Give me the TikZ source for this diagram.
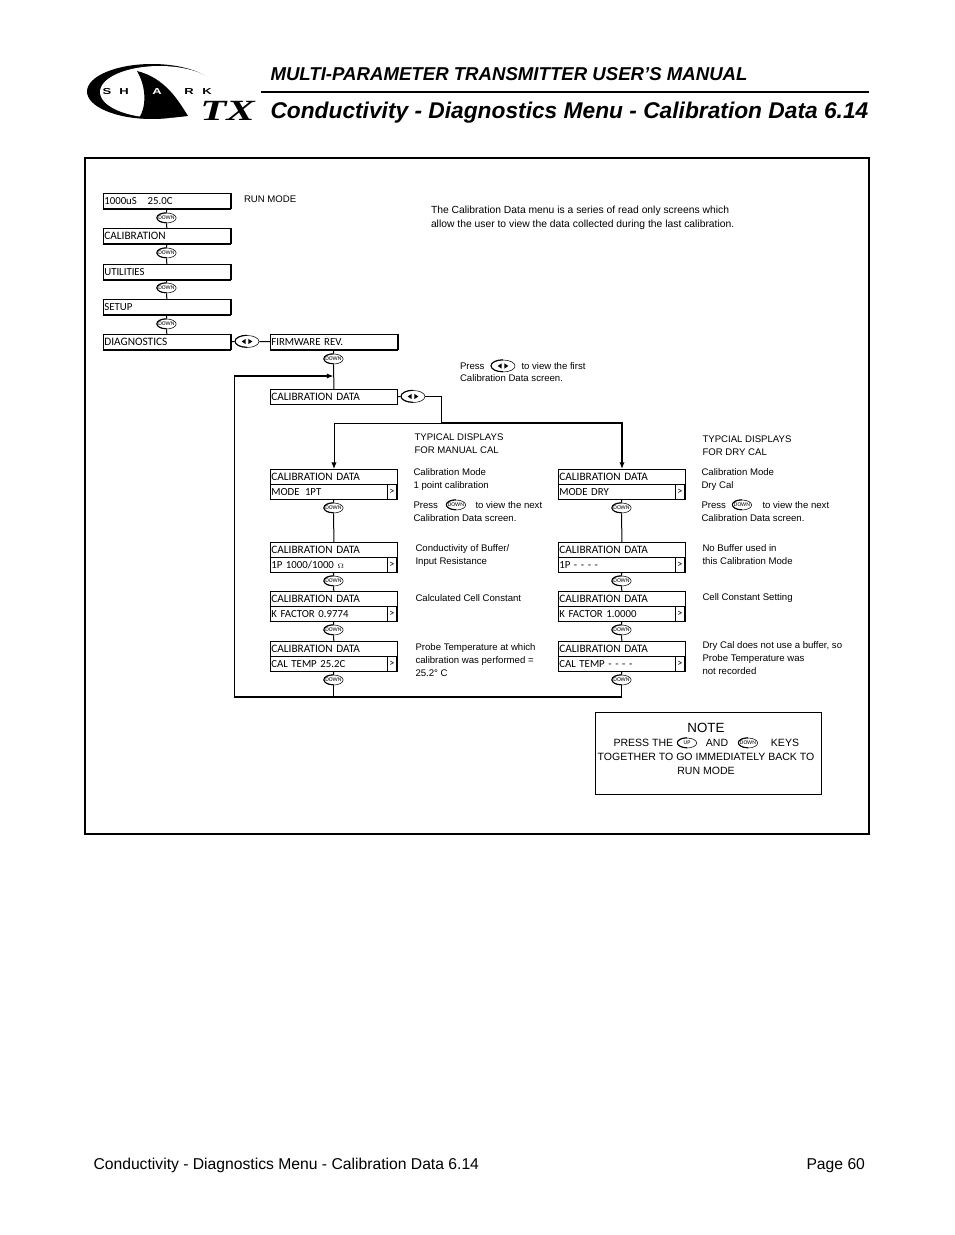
\documentclass[tikz,border=0pt]{standalone}
\usepackage{fontspec}
\setmainfont{Liberation Sans}
\newfontfamily\lcdfont{Carlito}
\newfontfamily\logofont{Liberation Serif}
\usetikzlibrary{arrows.meta,shapes.geometric}

\tikzset{every picture/.style={line width=0.75pt}}
\tikzset{
	lcdbox/.style={draw,anchor=north west,minimum width=95.25pt,minimum height=11.25pt,inner sep=0pt,
		text width=94pt,align=left,font=\lcdfont\fontsize{8.1}{8}\selectfont,text depth=0pt},
	lcdshade/.style={lcdbox,append after command={
		[line width=1.3pt] (\tikzlastnode.north east) edge[-] (\tikzlastnode.south east)
		(\tikzlastnode.south west) edge[-] (\tikzlastnode.south east)}},
	cellbox/.style={draw,anchor=north east,minimum width=6.75pt,minimum height=11.25pt,inner sep=0pt,
		font=\lcdfont\fontsize{7.7}{8}\selectfont},
	keybase/.style={draw,fill=white,ellipse,inner sep=0pt,inner xsep=-2pt,
		line width=0.4pt,font=\lcdfont\fontsize{4.3}{4}\selectfont},
	keyrim/.style 2 args={append after command={[line width=1pt] (\tikzlastnode.north)
		edge[to path={(\tikztostart) arc[start angle=270,end angle=90,x radius=#1,y radius=#2]}] (\tikzlastnode.south)}},
	keydown/.style={keybase,minimum width=14.5pt,minimum height=7.5pt,keyrim={7.25pt}{3.75pt}},
	keylr/.style={keybase,minimum width=18pt,minimum height=9pt,keyrim={9pt}{4.5pt},
		path picture={\fill[black] (path picture bounding box.center) ++(-1pt,-2pt) -- ++(0,4pt) -- ++(-3pt,-2pt) -- cycle;
			\fill[black] (path picture bounding box.center) ++(1pt,-2pt) -- ++(0,4pt) -- ++(3pt,-2pt) -- cycle;}},
	caption/.style={anchor=west,inner sep=0pt,align=left,font=\fontsize{7.2}{9.6}\selectfont},
	looplink/.style={line width=1pt},
	headtitle/.style={anchor=base west,inner sep=0pt,font=\bfseries\itshape\fontsize{17.06}{20}\selectfont},
	foot/.style={anchor=base west,inner sep=0pt,font=\fontsize{11.77}{13}\selectfont},
	notetext/.style={inner sep=0pt,font=\fontsize{7.9}{10}\selectfont},
}
\newcommand{\cdlabel}{{\fontsize{8.5}{8}\selectfont CALIBRATION DATA}}
\newcommand{\lcdstack}[4]{
	\node[lcdbox] (cd#1) at (#2,#3) {\cdlabel};
	\node[lcdbox] (val#1) at (#2,#3+15) {#4};
	\node[cellbox] (more#1) at (#2+127,#3+15) {>};
}

\begin{document}
\begin{tikzpicture}[x=0.75pt,y=0.75pt,yscale=-1]
	\useasboundingbox (0,0) rectangle (954,1235);

	% Logo
	\fill (152,91.5) ellipse [x radius=65, y radius=27.5];
	\fill[white] (159.5,92) ellipse [x radius=59.5, y radius=26];
	\fill[white] (190,85.5) rectangle (225,109);
	\fill (137,71) .. controls (165,78) and (178,100) .. (188,116) .. controls (172,118) and (155,119) .. (139,118) .. controls (146,108) and (147,88) .. (137,71) -- cycle;
	\foreach \lx/\lt/\lc in {107/S/black,124/H/black,157/A/white,189/R/black,207/K/black}
		\node[text=\lc,inner sep=0pt,font=\bfseries\fontsize{6.5}{7}\selectfont,xscale=1.5] (logo\lt) at (\lx,92) {\lt};
	\node[inner sep=0pt,font=\logofont\bfseries\itshape\fontsize{22}{24}\selectfont,xscale=1.45] (logoTX) at (227.5,111) {TX};

	% Header
	\node[headtitle,font=\bfseries\itshape\fontsize{13.96}{18}\selectfont] (manual) at (270,80) {MULTI-PARAMETER TRANSMITTER USER’S MANUAL};
	\coordinate (ruleL) at (261,92);
	\coordinate (ruleR) at (869,92);
	\draw[line width=2pt] (ruleL) -- (ruleR);
	\node[headtitle] (pagetitle) at (270,118) {Conductivity - Diagnostics Menu - Calibration Data 6.14};

	% Frame
	\draw[line width=1.3pt] (85,158) rectangle (869,834);

	% Main menu
	\node[lcdshade] (run) at (103,193) {1000uS\ \ \ 25.0C};
	\node[lcdshade] (calib) at (103,228) {{\fontsize{8.5}{8}\selectfont CALIBRATION}};
	\node[lcdshade] (util) at (103,264) {UTILITIES};
	\node[lcdshade] (setup) at (103,299) {SETUP};
	\node[lcdshade] (diag) at (103,334) {{\fontsize{8.5}{8}\selectfont DIAGNOSTICS}};
	\node[lcdshade] (firm) at (270,334) {FIRMWARE REV.};
	\node[lcdbox] (cdata) at (270,389) {\cdlabel};

	\node[keydown] (key1) at (166.5,218) {DOWN};
	\node[keydown] (key2) at (166.5,253) {DOWN};
	\node[keydown] (key3) at (166.5,288) {DOWN};
	\node[keydown] (key4) at (166.5,324) {DOWN};
	\node[keylr] (keyDiag) at (247,341.5) {};
	\node[keydown] (keyFirm) at (333.5,359) {DOWN};
	\node[keylr] (keyCal) at (413,396.5) {};

	% Screens
	\lcdstack{A1}{270}{469}{MODE\ \,1PT}
	\lcdstack{A2}{270}{542}{1P 1000/1000 {\fontsize{5}{5}\selectfont$\Omega$}}
	\lcdstack{A3}{270}{591}{K FACTOR 0.9774}
	\lcdstack{A4}{270}{641}{CAL TEMP 25.2C}
	\lcdstack{B1}{558}{469}{MODE DRY}
	\lcdstack{B2}{558}{542}{1P - - - -}
	\lcdstack{B3}{558}{591}{K FACTOR 1.0000}
	\lcdstack{B4}{558}{641}{CAL TEMP - - - -}

	\node[keydown] (keyA1) at (333.5,508) {DOWN};
	\node[keydown] (keyA2) at (333.5,581) {DOWN};
	\node[keydown] (keyA3) at (333.5,630) {DOWN};
	\node[keydown] (keyA4) at (333.5,680) {DOWN};
	\node[keydown] (keyB1) at (621.5,508) {DOWN};
	\node[keydown] (keyB2) at (621.5,581) {DOWN};
	\node[keydown] (keyB3) at (621.5,630) {DOWN};
	\node[keydown] (keyB4) at (621.5,680) {DOWN};

	% Connectors
	\draw (run) -- (key1) -- (calib) -- (key2) -- (util) -- (key3) -- (setup) -- (key4) -- (diag);
	\draw (diag) -- (keyDiag) -- (firm);
	\draw (firm) -- (keyFirm) -- (cdata);
	\draw (cdata) -- (keyCal);
	\draw (valA1) -- (keyA1) -- (cdA2);
	\draw (valA2) -- (keyA2) -- (cdA3);
	\draw (valA3) -- (keyA3) -- (cdA4);
	\draw (valA4) -- (keyA4);
	\draw (valB1) -- (keyB1) -- (cdB2);
	\draw (valB2) -- (keyB2) -- (cdB3);
	\draw (valB3) -- (keyB3) -- (cdB4);
	\draw (valB4) -- (keyB4);

	\coordinate (branch) at (441,423);
	\coordinate (loopSW) at (234.5,697);
	\coordinate (loopNW) at (234.5,376);
	\coordinate (loopIn) at (333.5,376);
	\draw (keyCal) -| (branch);
	\draw[-{Latex[length=5pt,width=4pt]}] (branch) -| (cdA1);
	\draw[looplink,-{Latex[length=5pt,width=4pt]}] (branch) -| (cdB1);
	\draw (keyA4) |- (keyA4 |- loopSW);
	\draw[looplink,-{Latex[length=5pt,width=4pt]}] (keyB4) |- (loopSW) -- (loopNW) -- (loopIn);

	% Text Node
	\node[caption] (runlabel) at (243.5,199) {RUN MODE};
	\node[caption,anchor=north west,font=\fontsize{7.75}{10}\selectfont] (intro) at (430.5,206) {The Calibration Data menu is a series of read only screens which\\allow the user to view the data collected during the last calibration.};
	\node[caption] (pressA) at (459.5,366) {Press};
	\node[keylr] (keyPress) at (503,366) {};
	\node[caption] (pressB) at (521,366) {to view the first};
	\node[caption] (pressC) at (459.5,378) {Calibration Data screen.};

	\node[caption,anchor=north west] (typA) at (414,433) {TYPICAL DISPLAYS\\FOR MANUAL CAL};
	\node[caption,anchor=north west] (typB) at (702,435) {TYPCIAL DISPLAYS\\FOR DRY CAL};
	\node[caption,anchor=north west] (modeA) at (413,468) {Calibration Mode\\1 point calibration};
	\node[caption,anchor=north west] (modeB) at (701,468) {Calibration Mode\\Dry Cal};

	\node[caption] (nextA) at (413,505) {Press};
	\node[keydown] (keyNextA) at (456,505) {DOWN};
	\node[caption] (nextB) at (475,505) {to view the next};
	\node[caption] (nextC) at (413,518) {Calibration Data screen.};
	\node[caption] (nextD) at (701,505) {Press};
	\node[keydown] (keyNextB) at (742,505) {DOWN};
	\node[caption] (nextE) at (762,505) {to view the next};
	\node[caption] (nextF) at (701,518) {Calibration Data screen.};

	\node[caption,anchor=north west] (buffA) at (415,544) {Conductivity of Buffer/\\Input Resistance};
	\node[caption,anchor=north west] (buffB) at (702,544) {No Buffer used in\\this Calibration Mode};
	\node[caption] (cellA) at (415,598.5) {Calculated Cell Constant};
	\node[caption] (cellB) at (702,598.5) {Cell Constant Setting};
	\node[caption,anchor=north west] (tempA) at (415,643) {Probe Temperature at which\\calibration was performed =\\25.2° C};
	\node[caption,anchor=north west] (tempB) at (702,641) {Dry Cal does not use a buffer, so\\Probe Temperature was\\not recorded};

	% Note
	\draw (595,712) rectangle (821,794);
	\node[notetext,font=\fontsize{10}{12}\selectfont] (noteHead) at (706,728) {NOTE};
	\node[notetext,anchor=west] (noteA) at (613,743) {PRESS THE};
	\node[keydown] (keyUp) at (687,743) {UP};
	\node[notetext] (noteB) at (717,743) {AND};
	\node[keydown] (keyNote) at (748,743) {DOWN};
	\node[notetext] (noteC) at (785,743) {KEYS};
	\node[notetext] (noteD) at (706,757) {TOGETHER TO GO IMMEDIATELY BACK TO};
	\node[notetext] (noteE) at (706,771) {RUN MODE};

	% Footer
	\node[foot] (footL) at (93,1169) {Conductivity - Diagnostics Menu - Calibration Data 6.14};
	\node[foot] (footR) at (806,1169) {Page 60};
\end{tikzpicture}
\end{document}
